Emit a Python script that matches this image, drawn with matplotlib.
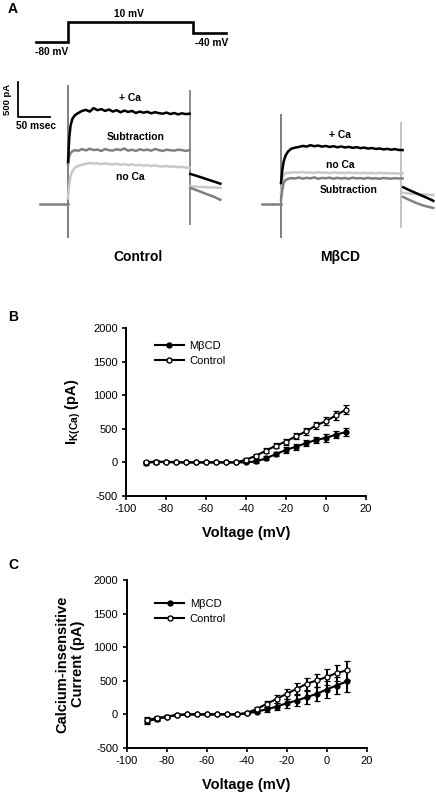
import numpy as np
import matplotlib
matplotlib.use("Agg")
import matplotlib.pyplot as plt
from matplotlib.lines import Line2D

plt.rcParams['font.family'] = ['Liberation Sans', 'DejaVu Sans']
plt.rcParams['mathtext.fontset'] = 'custom'
plt.rcParams['mathtext.rm'] = 'Liberation Sans'
plt.rcParams['mathtext.bf'] = 'Liberation Sans:bold'
plt.rcParams['axes.unicode_minus'] = False

# ---------------- данные ----------------
# протокол напряжения (мс относительно начала ступеньки, мВ)
proto_t = [-50, 0, 0, 195, 195, 247]
proto_v = [-80, -80, 10, 10, -40, -40]

# общая сетка времени для записи токов (мс от начала ступеньки)
t_pulse = [0, 2, 4, 7, 11, 16, 22, 28, 34, 40, 46, 52, 58, 64, 70, 76, 82, 88,
           94, 100, 106, 112, 118, 124, 130, 136, 142, 148, 154, 160, 166, 172,
           178, 184, 190]
t_tail = [191, 200, 210, 220, 230, 238]
base_ctrl_t = [-44, 0]
base_mbcd_t = [-30, 0]
base_i = [0, 0]

# Control, пА
ctrl_ca = [600, 950, 1120, 1220, 1270, 1300, 1330, 1345, 1320, 1370, 1340, 1355,
           1330, 1350, 1320, 1340, 1310, 1335, 1315, 1330, 1300, 1320, 1305, 1318,
           1295, 1312, 1298, 1290, 1306, 1285, 1300, 1280, 1296, 1284, 1290]
ctrl_sub = [560, 680, 730, 755, 770, 760, 785, 765, 790, 770, 778, 758, 786, 768,
            764, 782, 770, 792, 762, 776, 758, 782, 768, 776, 762, 786, 770, 758,
            776, 768, 762, 776, 770, 758, 770]
ctrl_noca = [80, 280, 400, 470, 520, 545, 560, 575, 585, 578, 582, 570, 580, 572,
             566, 575, 562, 570, 556, 566, 552, 560, 548, 556, 542, 552, 540, 534,
             544, 530, 538, 524, 532, 520, 515]
ctrl_ca_tail = [430, 405, 375, 345, 315, 290]
ctrl_sub_tail = [230, 200, 165, 130, 95, 60]
ctrl_noca_tail = [255, 248, 243, 238, 235, 232]

# MβCD, пА
mbcd_ca = [300, 480, 600, 690, 750, 790, 805, 815, 830, 820, 840, 825, 835, 820,
           830, 815, 826, 810, 822, 808, 816, 802, 812, 798, 806, 792, 800, 786,
           794, 780, 788, 776, 784, 772, 770]
mbcd_noca = [150, 330, 410, 440, 450, 445, 455, 448, 458, 446, 452, 444, 456, 446,
             450, 442, 452, 444, 448, 440, 450, 442, 446, 438, 448, 440, 444, 436,
             446, 438, 442, 436, 440, 434, 436]
mbcd_sub = [60, 200, 300, 340, 360, 370, 365, 378, 362, 374, 366, 380, 360, 372,
            368, 376, 362, 374, 364, 372, 360, 376, 366, 370, 362, 374, 364, 368,
            360, 372, 366, 362, 370, 364, 366]
mbcd_ca_tail = [240, 200, 160, 120, 80, 45]
mbcd_noca_tail = [160, 150, 142, 136, 132, 130]
mbcd_sub_tail = [100, 60, 20, -15, -40, -57]

# емкостные артефакты: (время, низ, верх, цвет)
ctrl_artifacts = [(0, -486, 1700, '#808080'), (190, -300, 1630, '#8c8c8c')]
mbcd_artifacts = [(0, -486, 1286, '#808080'), (188, -343, 1170, '#c4c4c4')]

# ВАХ
voltage = [-90, -85, -80, -75, -70, -65, -60, -55, -50, -45, -40,
           -35, -30, -25, -20, -15, -10, -5, 0, 5, 10]

b_mbcd = [-5, 5, 5, 0, 0, 0, 0, 0, 0, 0, 0, 15, 60, 125, 185, 235, 285, 335, 365, 415, 450]
b_mbcd_err = [30, 25, 20, 5, 0, 0, 0, 0, 0, 0, 10, 25, 30, 35, 40, 45, 45, 50, 55, 55, 60]
b_ctrl = [5, 10, 10, 5, 0, 0, 0, 0, 0, 0, 40, 100, 175, 250, 310, 390, 460, 550, 615, 700, 785]
b_ctrl_err = [10, 10, 8, 5, 0, 0, 0, 0, 0, 0, 20, 30, 35, 40, 45, 45, 50, 55, 60, 65, 70]

c_mbcd = [-100, -70, -35, -10, 0, 0, 0, 0, 0, 0, 15, 40, 75, 115, 165, 205, 255, 305, 370, 430, 490]
c_mbcd_err = [50, 35, 20, 10, 5, 0, 0, 0, 0, 0, 10, 25, 40, 55, 70, 85, 100, 110, 120, 130, 150]
c_ctrl = [-85, -55, -35, -10, 0, 0, 0, 0, 0, 0, 20, 80, 155, 230, 305, 380, 455, 505, 555, 615, 655]
c_ctrl_err = [40, 30, 20, 10, 5, 0, 0, 0, 0, 0, 15, 30, 45, 60, 70, 80, 90, 100, 115, 125, 145]

# ---------------- фигура ----------------
W, H = 436, 796
fig = plt.figure(figsize=(W / 100, H / 100), dpi=100)


def px_axes(x0, y0, x1, y1):
    return fig.add_axes([x0 / W, 1 - y1 / H, (x1 - x0) / W, (y1 - y0) / H])


MS_PER_PX = 50 / 32
PA_PER_PX = 500 / 35
BLACK, DARK, LIGHT = '#000000', '#808080', '#c8c8c8'

# протокол
axp = px_axes(0, 0, W, 70)
axp.set_xlim(0, W * MS_PER_PX)
axp.set_ylim(-80 - 28 / 0.2222, 10 + 22 / 0.2222)
axp.axis('off')
step0 = 68 * MS_PER_PX
axp.plot(np.array(proto_t) + step0, proto_v, color='black', lw=1.9,
         solid_joinstyle='miter')
axp.text(step0 - 25, -125, '-80 mV', ha='center', va='center', fontsize=7.3, fontweight='bold')
axp.text(step0 + 95, 46, '10 mV', ha='center', va='center', fontsize=7.3, fontweight='bold')
axp.text(step0 + 224, -85, '-40 mV', ha='center', va='center', fontsize=7.3, fontweight='bold')

# записи токов
axt = px_axes(0, 70, W, 245)
axt.set_xlim(0, W * MS_PER_PX)
axt.set_ylim(-41 * PA_PER_PX, 134 * PA_PER_PX)
axt.axis('off')


def draw_traces(t0, base_t, traces, artifacts):
    for t, lo, hi, c in artifacts:
        axt.vlines(t0 + t, lo, hi, color=c, lw=1.4)
    axt.plot(np.array(base_t) + t0, base_i, color=DARK, lw=1.8)
    for col, pulse, tail in traces:
        axt.plot(np.array(t_pulse) + t0, pulse, color=col, lw=1.8)
        axt.plot(np.array(t_tail) + t0, tail, color=col, lw=1.8)


ctrl0 = 68 * MS_PER_PX
draw_traces(ctrl0, base_ctrl_t,
            [(LIGHT, ctrl_noca, ctrl_noca_tail), (DARK, ctrl_sub, ctrl_sub_tail),
             (BLACK, ctrl_ca, ctrl_ca_tail)], ctrl_artifacts)
mbcd0 = 281 * MS_PER_PX
draw_traces(mbcd0, base_mbcd_t,
            [(LIGHT, mbcd_noca, mbcd_noca_tail), (DARK, mbcd_sub, mbcd_sub_tail),
             (BLACK, mbcd_ca, mbcd_ca_tail)], mbcd_artifacts)

lab = dict(ha='center', va='center', fontsize=7.5, fontweight='bold')
axt.text(ctrl0 + 97, 1514, '+ Ca', **lab)
axt.text(ctrl0 + 106, 957, 'Subtraction', **lab)
axt.text(ctrl0 + 97, 386, 'no Ca', **lab)
axt.text(mbcd0 + 92, 986, '+ Ca', **lab)
axt.text(mbcd0 + 92, 557, 'no Ca', **lab)
axt.text(mbcd0 + 105, 200, 'Subtraction', **lab)

# масштабная линейка
sb_x, sb_y = 18 * MS_PER_PX, (204 - 117) * PA_PER_PX
axt.plot([sb_x, sb_x, sb_x + 50], [sb_y + 500, sb_y, sb_y], color='black', lw=1.3)
fig.text(7 / W, 1 - 99 / H, '500 pA', rotation=90, ha='center', va='center',
         fontsize=6.8, fontweight='bold')
fig.text(36 / W, 1 - 126 / H, '50 msec', ha='center', va='center',
         fontsize=7.3, fontweight='bold')

fig.text(138 / W, 1 - 257 / H, 'Control', ha='center', va='center', fontsize=10, fontweight='bold')
fig.text(340 / W, 1 - 257 / H, 'MβCD', ha='center', va='center', fontsize=10, fontweight='bold')

for letter, y in [('A', 9), ('B', 317), ('C', 565)]:
    fig.text(13 / W, 1 - y / H, letter, ha='center', va='center', fontsize=10, fontweight='bold')


# ---------------- ВАХ ----------------
def iv_panel(box, mbcd, mbcd_err, ctrl, ctrl_err, ylabel, ylab_x, leg_y):
    ax = px_axes(*box)
    ebk = dict(color='black', lw=1.5, elinewidth=1.4, capsize=2.3, capthick=1.4,
               marker='o', markersize=3.6, markeredgewidth=0.9)
    ax.errorbar(voltage, mbcd, yerr=mbcd_err, mfc='black', mec='black', **ebk)
    ax.errorbar(voltage, ctrl, yerr=ctrl_err, mfc='white', mec='black', **ebk)
    ax.set_xlim(-100, 20)
    ax.set_ylim(-500, 2000)
    ax.set_xticks(range(-100, 21, 20))
    ax.set_yticks(range(-500, 2001, 500))
    for s in ['top', 'right']:
        ax.spines[s].set_visible(False)
    for s in ['left', 'bottom']:
        ax.spines[s].set_linewidth(1.4)
    ax.tick_params(direction='out', length=3, width=1.2, labelsize=8, pad=3)
    ax.set_xlabel('Voltage (mV)', fontsize=10.5, fontweight='bold', va='center')
    ax.xaxis.set_label_coords(0.5, -0.22)
    ax.set_ylabel(ylabel, fontsize=10.5, fontweight='bold', linespacing=1.1, va='center')
    ax.yaxis.set_label_coords(ylab_x, 0.5)
    handles = [Line2D([], [], color='black', lw=1.5, marker='o', ms=3.6, mfc='black', mec='black'),
               Line2D([], [], color='black', lw=1.5, marker='o', ms=3.6, mfc='white', mec='black')]
    ax.legend(handles, ['MβCD', 'Control'], loc='upper left', frameon=False,
              bbox_to_anchor=(0.12, leg_y), fontsize=8, handlelength=2.6,
              handletextpad=0.5, labelspacing=0.45, borderpad=0, borderaxespad=0)
    return ax


iv_panel((126, 328, 366, 496), b_mbcd, b_mbcd_err, b_ctrl, b_ctrl_err,
         r'$\mathbf{I_{K(Ca)}}$ (pA)', -0.22, (496 - 341) / 168)
iv_panel((126.5, 580, 366.5, 748), c_mbcd, c_mbcd_err, c_ctrl, c_ctrl_err,
         'Calcium-insensitive\nCurrent (pA)', -0.235, (748 - 599) / 168)

fig.savefig('out.png', dpi=100)
